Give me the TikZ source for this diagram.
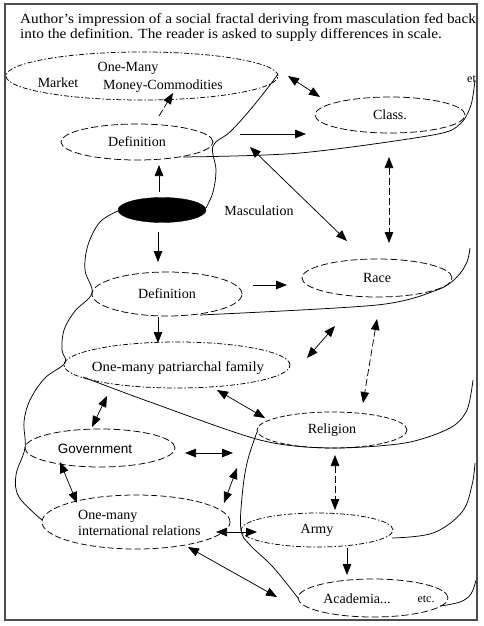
\documentclass[tikz,border=0pt]{standalone}
\usepackage{fontspec}
\setmainfont{Liberation Serif}
\newfontfamily\govfont{Liberation Sans}
\usetikzlibrary{shapes.geometric,arrows.meta}
\begin{document}
\begin{tikzpicture}[x=1pt,y=-1pt,
  ell/.style={draw,ellipse,inner sep=0pt,line width=0.75pt,dash pattern=on 7pt off 3pt},
  elldd/.style={ell,dash pattern=on 5pt off 2pt on 1.5pt off 2pt},
  txt/.style={font=\fontsize{14}{16}\selectfont,inner sep=0pt},
  con/.style={line width=0.75pt,>={Triangle[length=11pt,width=8.5pt]}},
  dcon/.style={con,dash pattern=on 7pt off 3pt},
  crv/.style={line width=0.75pt}]
\useasboundingbox (0,0) rectangle (483,626);
\fill[white] (0,0) rectangle (483,626);
% title
\node[anchor=west,inner sep=0pt] (title) at (20,28)
 {\scalebox{1.09}[1]{\fontsize{14}{15}\selectfont\begin{tabular}{@{}l@{}}Author's impression of a social fractal deriving from masculation fed back\\
  into the definition. The reader is asked to supply differences in scale.\end{tabular}}};
% ellipses
\node[elldd,minimum width=272pt,minimum height=48pt] (mkt) at (142,76) {};
\node[txt] (mkt1) at (128,68) {One-Many};
\node[txt] (mkt2) at (163,86) {Money-Commodities};
\node[txt] (mkt3) at (58,83) {Market};
\node[ell,minimum width=152pt,minimum height=36pt,txt] (def1) at (137,142) {Definition};
\node[ell,minimum width=150pt,minimum height=36pt,txt] (cls) at (390,115) {Class.};
\node[draw,fill=black,ellipse,minimum width=88pt,minimum height=25pt,inner sep=0pt] (masc) at (162,210) {};
\node[txt] (masclab) at (259,211) {Masculation};
\node[ell,minimum width=150pt,minimum height=44pt,txt] (def2) at (167,294) {Definition};
\node[ell,minimum width=150pt,minimum height=38pt,txt] (race) at (377,278) {Race};
\node[elldd,minimum width=226pt,minimum height=46pt] (fam) at (177,365) {};
\node[txt] (famlab) at (178,368) {\scalebox{1.06}[1]{One-many patriarchal family}};
\node[ell,dash pattern=on 5pt off 2.5pt,minimum width=150pt,minimum height=36pt,txt] (rel) at (332,430) {Religion};
\node[ell,minimum width=150pt,minimum height=38pt] (gov) at (100,448) {};
\node[inner sep=0pt,font=\govfont\fontsize{13.5}{16}\selectfont] (govlab) at (95,449) {Government};
\node[ell,dash pattern=on 6pt off 3pt,minimum width=188pt,minimum height=54pt] (intl) at (136,522) {};
\node[txt,anchor=west,align=left,font=\fontsize{14}{16}\selectfont] (intllab) at (78,523) {One-many\\international relations};
\node[elldd,minimum width=152pt,minimum height=34pt,txt] (army) at (317,530) {Army};
\node[ell,minimum width=150pt,minimum height=38pt] (acad) at (373,598) {};
\node[txt] (acadlab) at (357,599) {Academia...};
\node[txt,font=\fontsize{12}{14}\selectfont] (acadetc) at (426,599) {etc.};
\begin{scope}
\clip (0,0) rectangle (476,626);
\node[anchor=west,inner sep=0pt,font=\fontsize{12}{14}\selectfont] (topetc) at (467,79) {etc};
\end{scope}
% arrow end points
\coordinate (a1) at (288,76); \coordinate (a2) at (320,97);
\coordinate (b1) at (159,116); \coordinate (b2) at (173,93);
\coordinate (c1) at (240,134); \coordinate (c2) at (306,134);
\coordinate (d1) at (159,192); \coordinate (d2) at (159,165);
\coordinate (e1) at (158,232); \coordinate (e2) at (158,262);
\coordinate (f1) at (250,147); \coordinate (f2) at (347,241);
\coordinate (g1) at (389,157); \coordinate (g2) at (389,243);
\coordinate (h1) at (253,285); \coordinate (h2) at (287,285);
\coordinate (i1) at (158,317); \coordinate (i2) at (158,343);
\coordinate (j1) at (377,319); \coordinate (j2) at (363,403);
\coordinate (k1) at (335,326); \coordinate (k2) at (307,358);
\coordinate (l1) at (217,390); \coordinate (l2) at (265,418);
\coordinate (m1) at (107,396); \coordinate (m2) at (92,427);
\coordinate (n1) at (185,453); \coordinate (n2) at (233,453);
\coordinate (o1) at (60,462); \coordinate (o2) at (77,503);
\coordinate (p1) at (237,468); \coordinate (p2) at (224,503);
\coordinate (q1) at (335,455); \coordinate (q2) at (335,510);
\coordinate (r1) at (216,532); \coordinate (r2) at (257,532);
\coordinate (s1) at (347,548); \coordinate (s2) at (347,575);
\coordinate (t1) at (188,547); \coordinate (t2) at (277,597);
\draw[con,<->] (a1) -- (a2);
\draw[dcon,->] (b1) -- (b2);
\draw[con,->] (c1) -- (c2);
\draw[con,->] (d1) -- (d2);
\draw[con,->] (e1) -- (e2);
\draw[con,<->] (f1) -- (f2);
\draw[dcon,<->] (g1) -- (g2);
\draw[con,->] (h1) -- (h2);
\draw[con,->] (i1) -- (i2);
\draw[dcon,<->] (j1) -- (j2);
\draw[con,<->] (k1) -- (k2);
\draw[con,<->] (l1) -- (l2);
\draw[con,<->] (m1) -- (m2);
\draw[con,<->] (n1) -- (n2);
\draw[con,<->] (o1) -- (o2);
\draw[con,<->] (p1) -- (p2);
\draw[dcon,<->] (q1) -- (q2);
\draw[con,<->] (r1) -- (r2);
\draw[con,->] (s1) -- (s2);
\draw[con,<->] (t1) -- (t2);
% fractal curves
\draw[crv] plot[smooth,tension=0.6] coordinates {(206,208) (213,192) (216,170) (213,146) (230,132) (250,110) (270,85) (278,74)};
\draw[crv] plot[smooth,tension=0.5] coordinates {(183,157) (300,153) (433,135) (460,124) (471,105) (475,80)};
\draw[crv] plot[smooth,tension=0.5] coordinates {(200,315) (377,305) (437,290) (457,277) (467,262) (470,248)};
\draw[crv] plot[smooth,tension=0.5] coordinates {(83,377) (150,402) (260,440) (330,448) (405,443) (450,428) (467,410) (473,380)};
\draw[crv] plot[smooth,tension=0.6] coordinates {(118,211) (100,222) (88,245) (85,270) (92,293) (75,311) (64,330) (62,350) (65,363) (45,378) (30,400) (24,422) (25,448) (16,475) (19,497) (42,520)};
\draw[crv] plot[smooth,tension=0.6] coordinates {(257,432) (247,463) (242,497) (241,530) (250,545) (273,567) (298,598)};
\draw[crv] plot[smooth,tension=0.6] coordinates {(392,538) (433,533) (462,512) (472,485) (475,463)};
\draw[crv] plot[smooth,tension=0.6] coordinates {(440,606) (460,602) (471,594) (476,580)};
% frame
\draw[line width=1.6pt,black!70] (5,4) rectangle (477,620);
\end{tikzpicture}
\end{document}
